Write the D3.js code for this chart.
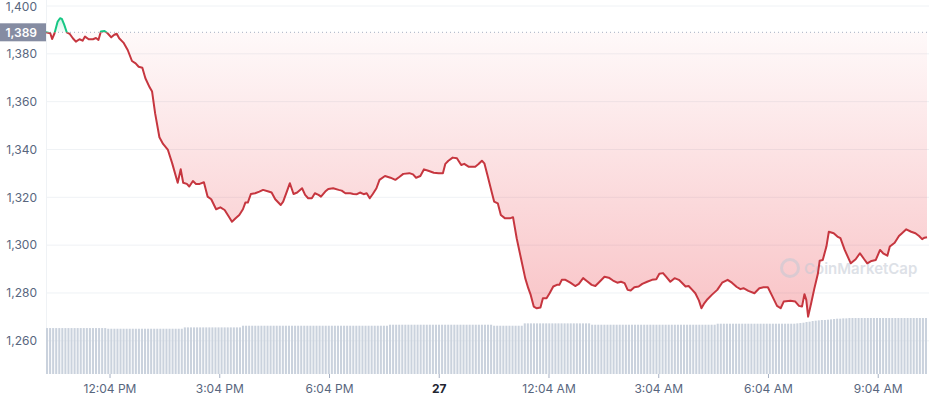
<!DOCTYPE html>
<html>
<head>
<meta charset="utf-8">
<script src="https://cdn.jsdelivr.net/npm/d3@7"></script>
<style>
  body { margin: 0; background: #fff; }
  svg { display: block; font-family: Inter, "Noto Sans", sans-serif; }
</style>
</head>
<body>
<svg id="chart" width="929" height="400"></svg>
<script>
// price points: minutes after 10:19 AM (Nov 26) and price in USD
const priceMinutes = [0,7,10,14,19,23,26,30,34,39,44,49,55,60,64,70,77,82,86,90,96,101,107,112,116,120,127,134,141,147,152,158,163,170,174,179,186,192,200,207,216,221,225,231,235,241,246,252,259,265,271,279,286,293,300,305,311,317,323,327,331,336,343,350,356,
  365,370,376,385,389,395,400,406,412,420,425,430,436,441,447,451,458,463,471,480,485,491,499,504,510,515,521,526,531,536,542,547,556,565,573,580,586,596,602,607,614,620,627,636,644,651,655,660,667,674,681,686,693,704,709,715,719,724,731,735,741,746,753,761,766,
  772,779,786,791,795,800,805,811,815,821,826,832,838,842,846,852,860,868,874,881,887,895,901,908,916,923,930,937,943,949,954,959,965,972,978,986,994,1001,1006,1012,1017,1024,1031,1038,1043,1049,1054,1060,1065,1071,1075,1079,1085,1092,1101,1109,1118,1125,
  1133,1139,1144,1152,1162,1170,1177,1184,1191,1199,1205,1210,1221,1229,1235,1240,1244,1247,1250,1255,1260,1266,1269,1274,1280,1284,1292,1298,1303,1310,1320,1328,1335,1342,1347,1354,1361,1368,1373,1380,1384,1392,1399,1404,1411,1419,1426,1432,1437,1441,1445];

const prices = [1389.0,1388.6,1386.2,1388.6,1393.4,1394.9,1394.6,1392.1,1389.0,1388.3,1386.5,1385.1,1386.1,1385.5,1387.2,1386.1,1386.1,1386.6,1385.8,1389.3,1389.5,1388.6,1386.9,1388.0,1388.4,1386.5,1384.7,1381.6,1377.0,1376.0,1374.6,1374.2,1369.8,1366.0,1364.2,1355.1,1345.1,1342.3,1339.8,1334.2,1326.1,1331.7,1326.1,1325.6,1324.5,1326.8,1325.6,1325.6,1326.3,1320.3,1319.2,1315.0,1315.8,1314.7,1311.9,1309.8,1311.2,1312.6,1315.0,1317.8,1317.8,1321.4,1321.7,1322.4,1323.1,
  1322.4,1322.0,1319.2,1316.8,1318.2,1322.4,1325.9,1321.4,1322.0,1323.8,1321.0,1319.6,1319.6,1321.7,1321.0,1320.3,1322.4,1323.5,1323.8,1323.1,1322.8,1321.7,1321.7,1321.4,1321.3,1322.0,1321.3,1321.7,1319.6,1321.4,1323.8,1327.3,1328.9,1328.2,1327.3,1328.6,1329.8,1330.1,1329.6,1328.2,1328.9,1331.7,1331.1,1330.3,1330.1,1330.1,1334.0,1335.3,1336.6,1336.3,1333.5,1334.0,1332.8,1332.8,1333.8,1335.3,1334.2,1329.3,1322.2,1318.2,1317.5,1312.6,1311.2,1311.2,1311.7,
  1302.9,1294.5,1286.2,1282.0,1279.2,1274.3,1273.6,1273.9,1277.8,1277.8,1279.9,1282.7,1283.4,1283.4,1285.5,1285.5,1284.3,1282.9,1283.8,1286.2,1285.0,1283.4,1282.9,1284.7,1286.8,1286.4,1285.2,1284.3,1284.7,1284.1,1281.3,1281.0,1282.4,1282.7,1283.8,1284.7,1285.5,1285.7,1288.0,1288.3,1286.8,1284.7,1286.2,1285.5,1284.3,1282.7,1282.9,1281.3,1279.9,1276.8,1273.6,1275.4,1277.4,1279.2,1281.3,1284.3,1285.5,1284.3,
  1282.5,1281.6,1282.0,1280.9,1279.9,1282.0,1282.4,1282.4,1278.8,1274.6,1273.6,1276.4,1276.7,1276.4,1274.6,1274.3,1279.5,1277.1,1270.1,1275.7,1281.6,1288.0,1293.5,1293.8,1299.4,1305.6,1305.0,1303.6,1302.9,1298.0,1292.4,1294.1,1296.6,1294.1,1292.4,1293.4,1293.8,1298.0,1296.6,1295.6,1299.4,1301.0,1303.8,1305.0,1306.6,1305.6,1305.0,1303.8,1302.5,1303.1,1303.3];

// 24h volume (billions), one bar per 5 minutes
const volumes = [
  13.7,13.7,13.7,13.7,13.7,13.7,13.7,13.7,13.7,13.7,13.7,13.7,13.7,13.7,13.7,13.7,13.7,13.7,13.7,13.7,13.5,13.5,13.5,13.5,
  13.5,13.5,13.5,13.5,13.5,13.5,13.5,13.5,13.5,13.5,13.5,13.5,13.5,13.5,13.5,13.5,13.5,13.5,13.5,13.5,13.5,13.9,13.9,13.9,
  13.9,13.9,13.9,13.9,13.9,13.9,13.9,13.9,13.9,13.9,13.9,13.9,13.9,13.9,13.9,13.9,14.4,14.4,14.4,14.4,14.4,14.4,14.4,14.4,
  14.4,14.4,14.4,14.4,14.4,14.4,14.4,14.4,14.4,14.4,14.4,14.4,14.4,14.4,14.4,14.4,14.4,14.4,14.4,14.4,14.4,14.4,14.4,14.4,
  14.4,14.4,14.4,14.4,14.4,14.4,14.4,14.4,14.4,14.4,14.4,14.4,14.4,14.4,14.4,14.4,14.7,14.7,14.7,14.7,14.7,14.7,14.7,14.7,
  14.7,14.7,14.7,14.7,14.7,14.7,14.7,14.7,14.7,14.7,14.7,14.7,14.7,14.7,14.7,14.7,14.7,14.7,14.7,14.7,14.7,14.7,14.7,14.7,
  14.7,14.7,14.4,14.4,14.4,14.4,14.4,14.4,14.4,14.4,14.4,14.4,15.1,15.1,15.1,15.1,15.1,15.1,15.1,15.1,15.1,15.1,15.1,15.1,
  15.1,15.1,15.1,15.1,15.1,15.1,15.1,15.1,15.1,15.1,14.7,14.7,14.7,14.7,14.7,14.7,14.7,14.7,14.7,14.7,14.7,14.7,14.7,14.7,
  14.7,14.7,14.7,14.7,14.7,14.7,14.7,14.7,14.7,14.7,14.7,14.7,14.7,14.7,14.7,14.7,14.7,14.7,14.7,14.7,14.7,14.7,14.7,14.7,
  14.7,14.7,14.7,15.0,15.0,15.0,15.0,15.0,15.0,15.0,15.0,15.0,15.0,15.0,15.0,15.0,15.0,15.0,15.0,15.0,15.0,15.0,15.0,15.0,
  15.0,15.0,15.0,15.0,15.0,15.1,15.2,15.3,15.5,15.6,15.8,15.9,16.0,16.1,16.1,16.2,16.3,16.4,16.5,16.5,16.6,16.6,16.7,16.7,
  16.7,16.7,16.7,16.7,16.7,16.7,16.7,16.7,16.7,16.7,16.7,16.7,16.7,16.7,16.7,16.7,16.7,16.7,16.7,16.7,16.7,16.7,16.7,16.7];

const yTicks = [1260, 1280, 1300, 1320, 1340, 1360, 1380, 1400];
const xTickMinutes = [105, 285, 465, 645, 825, 1005, 1185, 1365];
const xTickLabels = ["12:04 PM", "3:04 PM", "6:04 PM", "27", "12:04 AM", "3:04 AM", "6:04 AM", "9:04 AM"];
const basePrice = 1389;

const width = 929, height = 400;
const left = 46, right = 927, bottom = 374;
const start = new Date(2022, 10, 26, 10, 19);
const toDate = m => new Date(start.getTime() + m * 60000);

const svg = d3.select("#chart");

const x = d3.scaleTime().domain([toDate(0), toDate(1445)]).range([left, right]);
const y = d3.scaleLinear().domain([1260, 1400]).range([340.8, 6]);
const vy = d3.scaleLinear().domain([0, 17]).range([bottom, 317]);
const band = d3.scaleBand().domain(d3.range(volumes.length)).range([left, right]).paddingInner(0.33);

const data = priceMinutes.map((m, i) => ({ t: toDate(m), v: prices[i] }));

// gradient + clips
const defs = svg.append("defs");
const grad = defs.append("linearGradient").attr("id", "redFill")
  .attr("gradientUnits", "userSpaceOnUse").attr("x1", 0).attr("x2", 0)
  .attr("y1", y(basePrice)).attr("y2", y(1270));
grad.append("stop").attr("offset", 0).attr("stop-color", "#ea3943").attr("stop-opacity", 0.03);
grad.append("stop").attr("offset", 1).attr("stop-color", "#ea3943").attr("stop-opacity", 0.3);
const ggrad = defs.append("linearGradient").attr("id", "greenFill")
  .attr("gradientUnits", "userSpaceOnUse").attr("x1", 0).attr("x2", 0)
  .attr("y1", y(basePrice)).attr("y2", y(1396));
ggrad.append("stop").attr("offset", 0).attr("stop-color", "#16c784").attr("stop-opacity", 0.03);
ggrad.append("stop").attr("offset", 1).attr("stop-color", "#16c784").attr("stop-opacity", 0.25);

defs.append("clipPath").attr("id", "below").append("rect")
  .attr("x", 0).attr("y", y(basePrice)).attr("width", width).attr("height", height);
defs.append("clipPath").attr("id", "above").append("rect")
  .attr("x", 0).attr("y", 0).attr("width", width).attr("height", y(basePrice));

// grid
svg.append("g").selectAll("line").data(yTicks).join("line")
  .attr("x1", left).attr("x2", width)
  .attr("y1", d => y(d)).attr("y2", d => y(d))
  .attr("stroke", "#eff2f5").attr("stroke-width", 1);

svg.append("line").attr("x1", left + 0.5).attr("x2", left + 0.5)
  .attr("y1", 0).attr("y2", bottom).attr("stroke", "#eff2f5");

// y labels (top one kept inside the frame)
svg.append("g").selectAll("text").data(yTicks).join("text")
  .attr("x", 37).attr("y", d => Math.max(y(d), 7)).attr("dy", "0.35em")
  .attr("text-anchor", "end").attr("font-size", 12).attr("fill", "#58667e")
  .text(d => d3.format(",")(d));

// volume bars
svg.append("g").selectAll("rect").data(volumes).join("rect")
  .attr("x", (d, i) => band(i)).attr("width", band.bandwidth())
  .attr("y", d => vy(d)).attr("height", d => bottom - vy(d))
  .attr("fill", "#cad2dd");

// x ticks and labels
const xg = svg.append("g");
xg.selectAll("line").data(xTickMinutes).join("line")
  .attr("x1", d => x(toDate(d))).attr("x2", d => x(toDate(d)))
  .attr("y1", bottom).attr("y2", bottom + 4)
  .attr("stroke", "#a6b0c3");
xg.selectAll("text").data(xTickMinutes).join("text")
  .attr("x", d => x(toDate(d))).attr("y", 393)
  .attr("text-anchor", "middle").attr("font-size", 12)
  .attr("fill", (d, i) => xTickLabels[i] === "27" ? "#222531" : "#58667e")
  .attr("font-weight", (d, i) => xTickLabels[i] === "27" ? 700 : 400)
  .text((d, i) => xTickLabels[i]);

// area fills between price and base line
const area = d3.area().x(d => x(d.t)).y0(y(basePrice)).y1(d => y(d.v));
svg.append("path").datum(data).attr("d", area)
  .attr("fill", "url(#redFill)").attr("clip-path", "url(#below)");
svg.append("path").datum(data).attr("d", area)
  .attr("fill", "url(#greenFill)").attr("clip-path", "url(#above)");

// watermark
const wm = svg.append("g").attr("opacity", 0.55);
wm.append("circle").attr("cx", 790).attr("cy", 268).attr("r", 8.5)
  .attr("fill", "none").attr("stroke", "#c3c9d4").attr("stroke-width", 3);
wm.append("text").attr("x", 804).attr("y", 274).attr("font-size", 15)
  .attr("font-weight", 600).attr("fill", "#c3c9d4").text("CoinMarketCap");

// base line
svg.append("line").attr("x1", left).attr("x2", width)
  .attr("y1", y(basePrice)).attr("y2", y(basePrice))
  .attr("stroke", "#a6b0c3").attr("stroke-dasharray", "1 3");

// price line
const line = d3.line().x(d => x(d.t)).y(d => y(d.v));
svg.append("path").datum(data).attr("d", line)
  .attr("fill", "none").attr("stroke", "#c6363f").attr("stroke-width", 2)
  .attr("stroke-linejoin", "round").attr("clip-path", "url(#below)");
svg.append("path").datum(data).attr("d", line)
  .attr("fill", "none").attr("stroke", "#16c784").attr("stroke-width", 2)
  .attr("stroke-linejoin", "round").attr("clip-path", "url(#above)");

// current base label
svg.append("rect").attr("x", 0).attr("y", y(basePrice) - 9)
  .attr("width", left).attr("height", 18).attr("fill", "#858ca2");
svg.append("text").attr("x", 37).attr("y", y(basePrice)).attr("dy", "0.35em")
  .attr("text-anchor", "end").attr("font-size", 12).attr("font-weight", 600)
  .attr("fill", "#fff").text(d3.format(",")(basePrice));
</script>
</body>
</html>
